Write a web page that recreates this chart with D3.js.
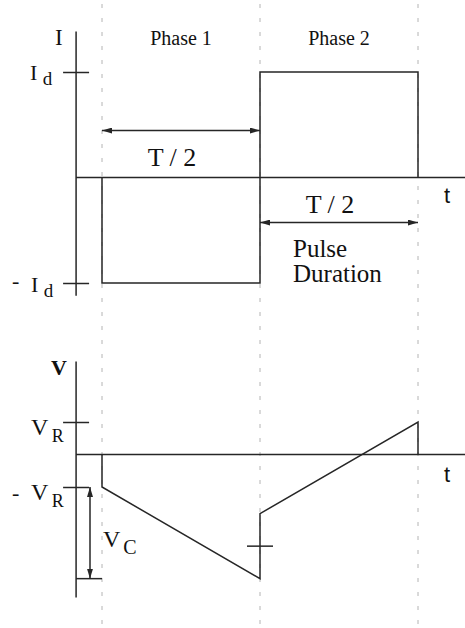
<!DOCTYPE html>
<html>
<head>
<meta charset="utf-8">
<script src="https://cdn.jsdelivr.net/npm/d3@7"></script>
<style>
  html, body { margin: 0; padding: 0; background: #fff; }
  svg { display: block; }
</style>
</head>
<body>
<svg id="chart" width="465" height="628"></svg>
<script>
// Time in units of the period T; phase boundaries at 0, T/2, T
const phaseBounds = [0, 0.5, 1];
const phaseNames = ["Phase 1", "Phase 2"];

// Biphasic current pulse, in units of I_d
const currentT = [0, 0, 0.5, 0.5, 1, 1];
const currentI = [0, -1, -1, 1, 1, 0];
const currentTicks = [1, -1];

// Electrode voltage, in units of V_R (ohmic drop plus capacitor ramp)
const voltageT = [0, 0, 0.5, 0.5, 1, 1];
const voltageV = [0, -1, -3.82, -1.82, 1, 0];
const voltageTicks = [1, -1];
const capMid = -2.82;      // capacitor zero crossing marker on the step
const capPeak = -3.82;     // lower end of the V_C span

// Axis extents
const tExtent = [-0.082, 1.149];
const iExtent = [-1.12, 1.385];
const vExtent = [-4.4, 2.86];

const SERIF = '"Liberation Serif", "Times New Roman", Times, serif';
const SANS = '"Liberation Sans", Arial, Helvetica, sans-serif';

const svg = d3.select("#chart");
const ink = "#262626";

const x = d3.scaleLinear().domain([0, 1]).range([102, 418]);
const yI = d3.scaleLinear().domain([-1, 1]).range([283, 72]);
const yV = d3.scaleLinear().domain([-1, 1]).range([487, 422]);

// Arrow markers
const defs = svg.append("defs");
function marker(id, orient) {
  defs.append("marker")
    .attr("id", id)
    .attr("viewBox", "0 0 10 6")
    .attr("refX", 10).attr("refY", 3)
    .attr("markerWidth", 10).attr("markerHeight", 6)
    .attr("markerUnits", "userSpaceOnUse")
    .attr("orient", orient)
    .append("path").attr("d", "M0,0L10,3L0,6Z").attr("fill", ink);
}
marker("head", "auto");
marker("tail", "auto-start-reverse");

// Dashed phase boundaries across both panels
svg.append("g").selectAll("line").data(phaseBounds).join("line")
  .attr("x1", d => x(d)).attr("x2", d => x(d))
  .attr("y1", 4).attr("y2", 626)
  .attr("stroke", "#b4b4b4").attr("stroke-width", 1)
  .attr("stroke-dasharray", "4,10");

function panel(y, ext, ticks) {
  const g = svg.append("g");
  // vertical axis
  g.append("line")
    .attr("x1", x(tExtent[0])).attr("x2", x(tExtent[0]))
    .attr("y1", y(ext[1])).attr("y2", y(ext[0]))
    .attr("stroke", ink).attr("stroke-width", 1.5);
  // time axis at zero
  g.append("line")
    .attr("x1", x(tExtent[0])).attr("x2", x(tExtent[1]))
    .attr("y1", y(0)).attr("y2", y(0))
    .attr("stroke", ink).attr("stroke-width", 1.5);
  // crossing tick marks on both sides of the axis
  [d3.axisLeft(y), d3.axisRight(y)].forEach(ax => {
    const a = g.append("g")
      .attr("transform", `translate(${x(tExtent[0])},0)`)
      .call(ax.tickValues(ticks).tickSize(13).tickSizeOuter(0).tickFormat(""));
    a.select(".domain").remove();
    a.selectAll(".tick line").attr("stroke", ink).attr("stroke-width", 1.5);
  });
  return g;
}

const gI = panel(yI, iExtent, currentTicks);
const gV = panel(yV, vExtent, voltageTicks);

const line = d3.line();
gI.append("path")
  .attr("d", line(currentT.map((t, i) => [x(t), yI(currentI[i])])))
  .attr("fill", "none").attr("stroke", ink).attr("stroke-width", 1.5);
gV.append("path")
  .attr("d", line(voltageT.map((t, i) => [x(t), yV(voltageV[i])])))
  .attr("fill", "none").attr("stroke", ink).attr("stroke-width", 1.5);

// marker across the voltage step
gV.append("line")
  .attr("x1", x(0.5) - 13).attr("x2", x(0.5) + 13)
  .attr("y1", yV(capMid)).attr("y2", yV(capMid))
  .attr("stroke", ink).attr("stroke-width", 1.5);

// V_C span: tick at the lower end and double arrow
gV.append("line")
  .attr("x1", x(tExtent[0])).attr("x2", x(0))
  .attr("y1", yV(capPeak)).attr("y2", yV(capPeak))
  .attr("stroke", ink).attr("stroke-width", 1.5);
gV.append("line")
  .attr("x1", 90).attr("x2", 90)
  .attr("y1", yV(-1)).attr("y2", yV(capPeak))
  .attr("stroke", ink).attr("stroke-width", 1.5)
  .attr("marker-start", "url(#tail)").attr("marker-end", "url(#head)");

// T/2 arrows
gI.append("line")
  .attr("x1", x(0)).attr("x2", x(0.5))
  .attr("y1", yI(0.445)).attr("y2", yI(0.445))
  .attr("stroke", ink).attr("stroke-width", 1.5)
  .attr("marker-start", "url(#tail)").attr("marker-end", "url(#head)");
gI.append("line")
  .attr("x1", x(0.5)).attr("x2", x(1))
  .attr("y1", yI(-0.427)).attr("y2", yI(-0.427))
  .attr("stroke", ink).attr("stroke-width", 1.5)
  .attr("marker-start", "url(#tail)").attr("marker-end", "url(#head)");

// Text
function txt(family, xx, yy, size, s, anchor, weight) {
  return svg.append("text")
    .attr("font-family", family)
    .attr("fill", "#111")
    .attr("x", xx).attr("y", yy)
    .attr("font-size", size)
    .attr("font-weight", weight || "normal")
    .attr("text-anchor", anchor || "start")
    .text(s);
}
function sub(xx, yy, size, main, s, subSize, dx, dy) {
  const t = svg.append("text")
    .attr("font-family", SERIF).attr("fill", "#111")
    .attr("x", xx).attr("y", yy).attr("font-size", size);
  t.append("tspan").text(main);
  t.append("tspan").attr("font-size", subSize).attr("dx", dx).attr("dy", dy).text(s);
  return t;
}

phaseNames.forEach((p, i) => {
  txt(SERIF, (x(phaseBounds[i]) + x(phaseBounds[i + 1])) / 2, 45, 20, p, "middle");
});

txt(SERIF, 55, 45, 23, "I");
sub(30, 80, 22, "I", "d", 19, 5.5, 5);
txt(SERIF, 12, 288, 22, "-");
sub(31, 292, 22, "I", "d", 19, 5.5, 5);

txt(SERIF, 172, 166, 26, "T / 2", "middle");
txt(SERIF, 330, 213, 26, "T / 2", "middle");
txt(SERIF, 293, 257, 25, "Pulse");
txt(SERIF, 293, 282, 25, "Duration");

txt(SANS, 444, 203, 22, "t");
txt(SANS, 444, 482, 22, "t");

txt(SERIF, 51, 375, 22, "V", "start", "bold");
sub(31, 435, 24, "V", "R", 18, 3.5, 7);
txt(SERIF, 12, 500, 22, "-");
sub(31, 500, 24, "V", "R", 18, 3.5, 7);
sub(103, 547, 24, "V", "C", 20, 3, 7);
</script>
</body>
</html>
